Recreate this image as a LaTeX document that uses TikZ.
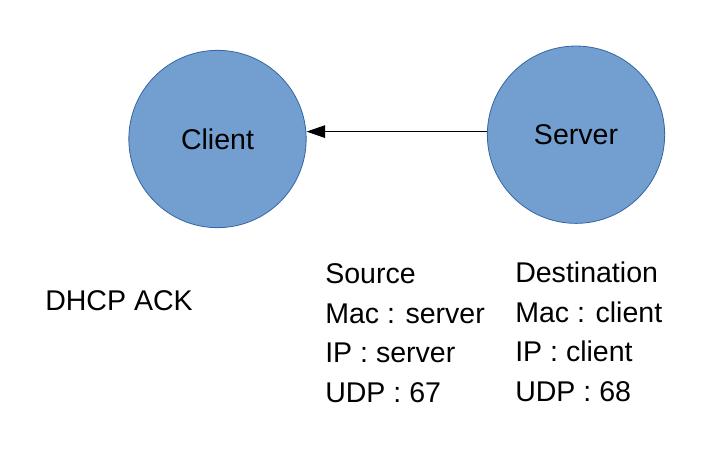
\documentclass[tikz,border=0pt]{standalone}
\usepackage{fontspec}
\setmainfont{Liberation Sans}
\usetikzlibrary{arrows.meta}
\definecolor{hostfill}{HTML}{729FCF}
\definecolor{hostline}{HTML}{3465A4}
\tikzset{
    host/.style={circle, draw=hostline, fill=hostfill, line width=0.6pt, minimum size=133pt, inner sep=0pt, font=\fontsize{21.4}{29.8}\selectfont},
    txt/.style={inner sep=0pt, font=\fontsize{21.4}{29.8}\selectfont},
    msg/.style={-{Triangle[length=14pt,width=9.5pt]}, line width=0.75pt}
}
\begin{document}
\begin{tikzpicture}[x=0.75pt,y=-0.75pt]
            \useasboundingbox (0,0) rectangle (718,471);

            \node [host] (client) at (217.5,139) {Client};
            \node [host] (server) at (576,134.7) {Server};

            \draw [msg] (server.178) -- (server.178 -| client.east);

            \node [txt, anchor=base west] (ack) at (45,310) {DHCP ACK};

            \node [txt, anchor=north west, align=left] (src) at (325,263.3)
                {Source\\Mac : server\\IP : server\\UDP : 67};
            \node [txt, anchor=north west, align=left] (dst) at (515,261.5)
                {Destination\\Mac : client\\IP : client\\UDP : 68};
        \end{tikzpicture}
\end{document}
